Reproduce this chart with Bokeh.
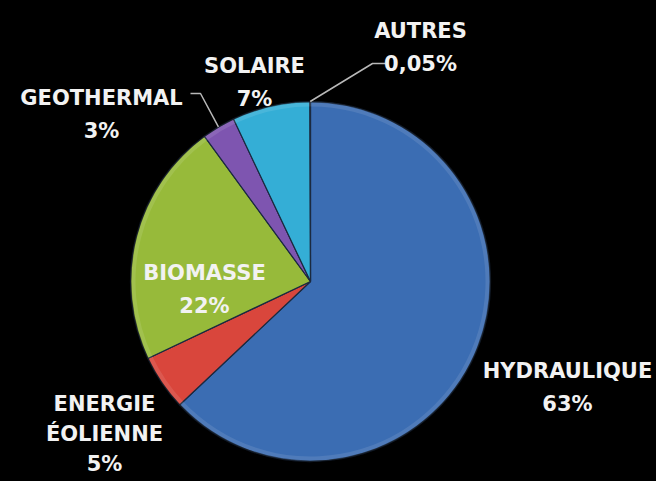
import math
from bokeh.plotting import figure
from bokeh.models import Range1d
from bokeh.embed import file_html
from bokeh.resources import INLINE
from bokeh.core.properties import value

# ---- data ----
categories = ["HYDRAULIQUE", "ENERGIE ÉOLIENNE", "BIOMASSE", "GEOTHERMAL", "SOLAIRE", "AUTRES"]
shares = [63, 5, 22, 3, 7, 0.05]
share_labels = ["63%", "5%", "22%", "3%", "7%", "0,05%"]
label_lines = [["HYDRAULIQUE"], ["ENERGIE", "ÉOLIENNE"], ["BIOMASSE"], ["GEOTHERMAL"], ["SOLAIRE"], ["AUTRES"]]
colors = ["#3b6db3", "#d9463c", "#97ba3a", "#7e55b0", "#34aed6", "#3a78c0"]

# ---- layout ----
W, H = 656, 481
cx, cy, R = 310, 200, 180
# label center x, first baseline y (plot pixel coords, y up), line gap
label_pos = [(567, 111, 33), (104, 78, 30), (204, 209, 33), (101, 384, 33), (254, 416, 33), (420, 451, 33)]
# leader lines: (elbow, end) for slices that need them
leaders = {3: [(200, 388), (190, 388)], 5: [(372, 418), (385, 418)]}

p = figure(width=W, height=H, output_backend="svg", toolbar_location=None,
           x_range=Range1d(0, W), y_range=Range1d(0, H), min_border=0)
p.axis.visible = False
p.grid.visible = False
p.outline_line_color = None
p.background_fill_color = "black"
p.border_fill_color = "black"

total = sum(shares)
starts, ends, mids = [], [], []
cum = 0.0
for s in shares:
    a0 = math.pi / 2 - 2 * math.pi * cum / total
    cum += s
    a1 = math.pi / 2 - 2 * math.pi * cum / total
    starts.append(a1)
    ends.append(a0)
    mids.append((a0 + a1) / 2)

n = len(shares)
p.wedge(x=[cx] * n, y=[cy] * n, radius=R,
        start_angle=starts, end_angle=ends, direction="anticlock",
        fill_color=colors, line_color="#1b2a40", line_width=1.2)
# soft bevel at the rim
p.annular_wedge(x=[cx] * n, y=[cy] * n, inner_radius=R - 5, outer_radius=R,
                start_angle=starts, end_angle=ends, direction="anticlock",
                fill_color="white", fill_alpha=0.10, line_color=None)
p.circle(x=[cx], y=[cy], radius=R, fill_color=None, line_color="black",
         line_alpha=0.45, line_width=2)

# leader lines
for i, pts in leaders.items():
    sx = cx + R * math.cos(mids[i])
    sy = cy + R * math.sin(mids[i])
    xs = [sx] + [q[0] for q in pts]
    ys = [sy] + [q[1] for q in pts]
    p.line(xs, ys, line_color="#b8b8b8", line_width=1.5)

# labels
tx, ty, tt = [], [], []
for i in range(n):
    x0, y0, gap = label_pos[i]
    lines = label_lines[i] + [share_labels[i]]
    for k, t in enumerate(lines):
        tx.append(x0)
        ty.append(y0 - k * gap)
        tt.append(t)
p.text(x=tx, y=ty, text=tt, text_color="#f2f2f2", text_font=value("DejaVu Sans"),
       text_font_style="bold", text_font_size="21px", text_align="center",
       text_baseline="alphabetic")

html = file_html(p, INLINE)
html = html.replace("<head>", "<head><style>html,body{background:#000;}</style>", 1)
open("out.html", "w").write(html)
